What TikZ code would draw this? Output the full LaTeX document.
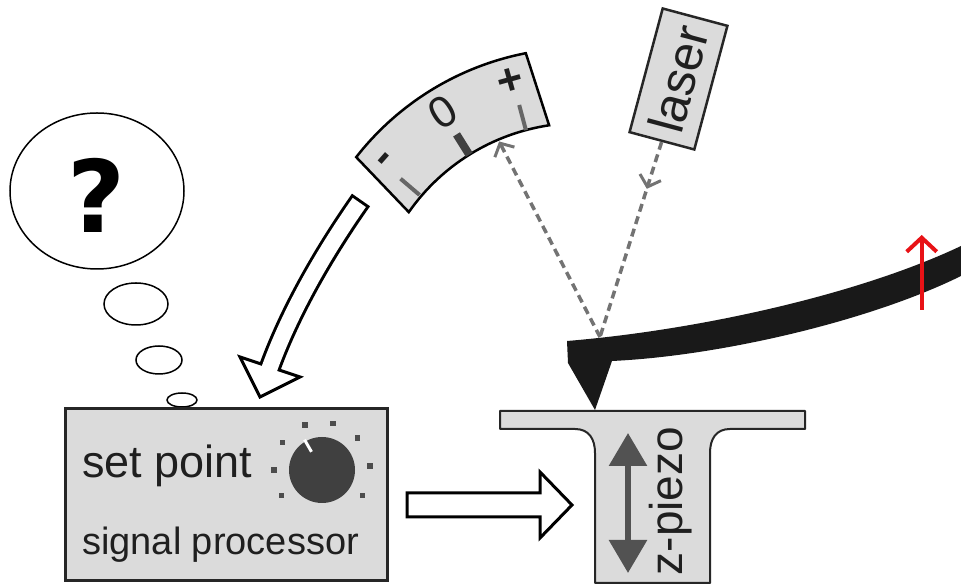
\documentclass[tikz,border=0pt]{standalone}
\usepackage{fontspec}
\setmainfont{Liberation Sans}
\newfontfamily\qfont{DejaVu Sans}
\usetikzlibrary{arrows.meta,decorations.markings,calc,shapes.geometric}

\begin{document}
\begin{tikzpicture}[x=1pt,y=1pt,
  panel/.style={draw=black!85, fill=black!14, line width=2.5pt},
  beam/.style={draw=black!55, line width=3.5pt, dash pattern=on 8pt off 5pt},
  barb/.style={-{Straight Barb[length=10pt,width=22pt,line width=3pt]}},
  bubble/.style={draw=black, line width=1.5pt, ellipse, inner sep=0pt},
  scaletick/.style={draw=black!60, line width=4pt},
  lbl/.style={font=\fontsize{46}{50}\selectfont, text=black!88, inner sep=0pt},
  meterlbl/.style={font=\fontsize{44}{48}\selectfont, text=black!88, inner sep=0pt},
  hollow/.style={draw=black, fill=white, line width=3pt, line join=miter},
]
\useasboundingbox (0,0) rectangle (961,585);

% ---- thought bubble ----
\node[bubble, minimum width=174, minimum height=156] (thought) at (97,394) {};
\node (query) at (97,390) {\qfont\bfseries\fontsize{100}{100}\selectfont ?};
\node[bubble, minimum width=64, minimum height=42] (puff1) at (136,281) {};
\node[bubble, minimum width=46, minimum height=28] (puff2) at (159,225) {};
\node[bubble, minimum width=30, minimum height=14] (puff3) at (182,185) {};

% ---- signal processor ----
\node[panel, minimum width=322, minimum height=172, anchor=south west, inner sep=0pt] (proc) at (64,3) {};
\node[font=\fontsize{45}{49}\selectfont, text=black!88, inner sep=0pt, anchor=base west] (setpt) at (82,107) {set point};
\node[font=\fontsize{38}{42}\selectfont, text=black!88, inner sep=0pt, anchor=base west] (sigproc) at (82,30) {signal processor};
\node[circle, fill=black!75, minimum size=66, inner sep=0pt] (knob) at (322,115) {};
\foreach \a in {212,180,145,111,77,42,5,-32}
  \fill[black!70] ($(knob)+(\a:48)$) ++(-2.7,-2.7) rectangle ++(5.4,5.4);
\draw[white, line width=3pt] ($(knob)+(120:21)$) -- ($(knob)+(120:35)$);

% ---- deflection scale ----
\begin{scope}[shift={(580,253)}]
  \draw[panel, draw=black] (145:209) -- (142:284) arc[start angle=142, end angle=101, radius=284]
    -- (98.5:209) arc[start angle=98.5, end angle=145, radius=209] -- cycle;
  \draw[scaletick] (139.5:211) -- (139.5:236);
  \draw[scaletick, draw=black!75, line width=8pt] (122:209) -- (122:233);
  \draw[scaletick] (105:209) -- (105:235);
  \node[meterlbl, font=\fontsize{44}{48}\selectfont\bfseries, rotate=48.5] (minus) at (138.5:257) {-};
  \node[meterlbl, rotate=32] (zero) at (122:259) {0};
  \node[meterlbl, font=\fontsize{44}{48}\selectfont\bfseries, rotate=15.6] (plus) at (105.6:260) {+};
  \coordinate (gauge) at (113:207);
\end{scope}

% ---- laser ----
\node[panel, rotate=75, minimum width=128, minimum height=67, inner sep=0pt,
  font=\fontsize{50}{54}\selectfont, text=black!88] (laser) at (678.5,506) {laser};

% ---- cantilever with tip ----
\fill[black!90] (567,244) .. controls (700,255) and (860,291) .. (961,339)
  -- (961,309) .. controls (870,264) and (720,229) .. (612,224)
  -- (595,175) -- (568,222) -- cycle;
\coordinate (spot) at (600,248);
\coordinate (apex) at (595,175);

% ---- laser beam and reflection ----
\draw[beam, postaction={decorate}, decoration={markings,
  mark=at position 0.24 with {\arrow[draw=black!55, line width=3pt]{Straight Barb[length=10pt,width=22pt]}}}]
  (laser.west) -- (spot);
\draw[beam, barb] (spot) -- (gauge);

% ---- bending of the cantilever ----
\coordinate (bendlo) at (921.7,275);
\coordinate (bendhi) at (921.7,350);
\draw[draw={rgb,255:red,232;green,18;blue,22}, line width=4pt,
  -{Straight Barb[length=14pt,width=30pt]}] (bendlo) -- (bendhi);

% ---- sample stage on z-piezo ----
\draw[panel, line width=2pt, line join=round] (500,174) -- (805,174) -- (805,156) -- (730,156)
  .. controls (716,156) and (710,146) .. (710,132) -- (710,2) -- (595,2) -- (595,132)
  .. controls (595,146) and (589,156) .. (575,156) -- (500,156) -- cycle;
\coordinate (ztop) at (628,152);
\coordinate (zbot) at (628,12);
\draw[draw=black!68, fill=black!68, line width=6pt,
  {Triangle[length=33pt,width=37pt]}-{Triangle[length=33pt,width=37pt]}] (zbot) -- (ztop);
\node[lbl, rotate=90, anchor=base] (zlabel) at (682,84) {z-piezo};

% ---- hollow arrow: processor to piezo ----
\coordinate (sigout) at (407,80);
\coordinate (sigin) at (572,80);
\draw[hollow] ($(sigout)+(0,-12)$) -- ($(sigin)+(-32,-12)$) -- ($(sigin)+(-32,-33)$) -- (sigin)
  -- ($(sigin)+(-32,33)$) -- ($(sigin)+(-32,12)$) -- ($(sigout)+(0,12)$) -- cycle;

% ---- curved hollow arrow: scale reading to processor ----
\coordinate (cmd0) at (361,385);
\coordinate (cmd1) at (270,218);
\coordinate (cmdtip) at (260,188);
\draw[line width=22pt, black] (cmd0) .. controls (326.6,335.9) and (291.5,276.7) .. (cmd1);
\draw[hollow] (240,228) -- (cmdtip) -- (300,208) -- cycle;
\draw[line width=16pt, white, shorten <=3pt] (cmd0) .. controls (326.6,335.9) and (291.5,276.7) .. (cmd1)
  -- ($(cmd1)!8pt!(cmdtip)$);
\end{tikzpicture}
\end{document}
